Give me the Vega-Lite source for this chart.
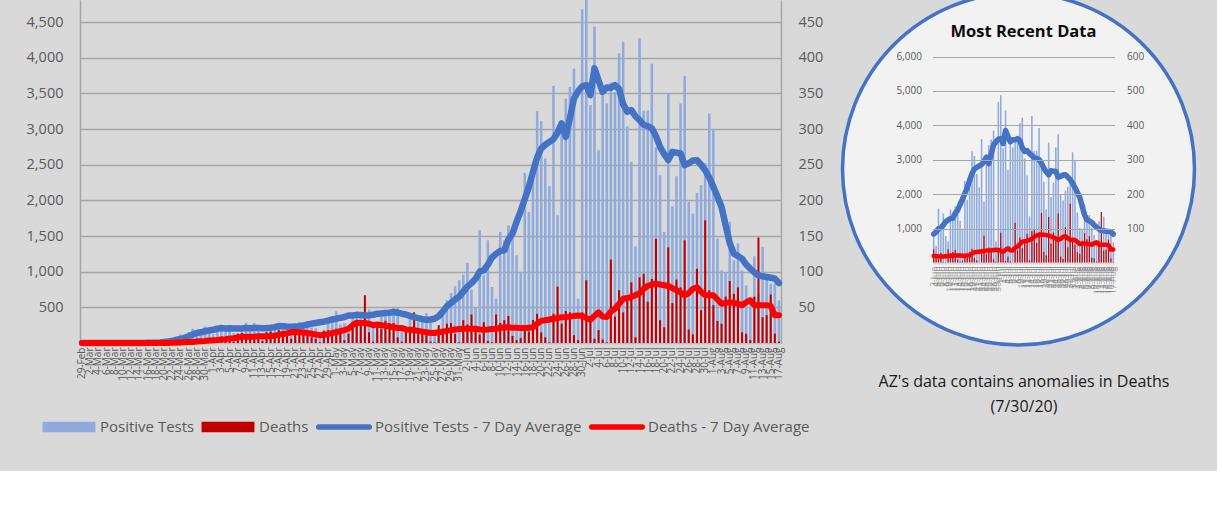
{
"$schema": "https://vega.github.io/schema/vega-lite/v6.json",
"background": "#d9d9d9",
"padding": {"left": 26, "top": -14, "right": 15, "bottom": 36},
"spacing": 12.5,
"config": {
  "view": {"stroke": null},
  "axis": {"labelFont": "Open Sans", "titleFont": "Open Sans"},
  "legend": {"labelFont": "Open Sans"},
  "title": {"font": "Open Sans"}
},
"datasets": {"az": [
{"date":"2020-02-29","p":0,"d":0,"pa":0,"da":0},
{"date":"2020-03-01","p":0,"d":0,"pa":0,"da":0},
{"date":"2020-03-02","p":0,"d":0,"pa":0,"da":0},
{"date":"2020-03-03","p":0,"d":0,"pa":0,"da":0},
{"date":"2020-03-04","p":0,"d":0,"pa":0,"da":0},
{"date":"2020-03-05","p":1,"d":0,"pa":0,"da":0},
{"date":"2020-03-06","p":1,"d":0,"pa":0,"da":0},
{"date":"2020-03-07","p":0,"d":0,"pa":0,"da":0},
{"date":"2020-03-08","p":1,"d":0,"pa":0,"da":0},
{"date":"2020-03-09","p":0,"d":0,"pa":0,"da":0},
{"date":"2020-03-10","p":1,"d":0,"pa":1,"da":0},
{"date":"2020-03-11","p":3,"d":0,"pa":1,"da":0},
{"date":"2020-03-12","p":0,"d":0,"pa":1,"da":0},
{"date":"2020-03-13","p":3,"d":0,"pa":1,"da":0},
{"date":"2020-03-14","p":1,"d":0,"pa":1,"da":0},
{"date":"2020-03-15","p":1,"d":0,"pa":1,"da":0},
{"date":"2020-03-16","p":5,"d":0,"pa":2,"da":0},
{"date":"2020-03-17","p":8,"d":0,"pa":3,"da":0},
{"date":"2020-03-18","p":14,"d":0,"pa":5,"da":0},
{"date":"2020-03-19","p":22,"d":0,"pa":8,"da":0},
{"date":"2020-03-20","p":38,"d":1,"pa":13,"da":0.1},
{"date":"2020-03-21","p":50,"d":0,"pa":20,"da":0.1},
{"date":"2020-03-22","p":75,"d":1,"pa":30,"da":0.3},
{"date":"2020-03-23","p":95,"d":0,"pa":42,"da":0.3},
{"date":"2020-03-24","p":120,"d":2,"pa":56,"da":0.6},
{"date":"2020-03-25","p":110,"d":2,"pa":73,"da":0.9},
{"date":"2020-03-26","p":150,"d":3,"pa":95,"da":1.3},
{"date":"2020-03-27","p":200,"d":2,"pa":120,"da":1.4},
{"date":"2020-03-28","p":180,"d":4,"pa":140,"da":2},
{"date":"2020-03-29","p":160,"d":3,"pa":150,"da":2.6},
{"date":"2020-03-30","p":235,"d":4,"pa":165,"da":2.9},
{"date":"2020-03-31","p":150,"d":6,"pa":175,"da":3.4},
{"date":"2020-04-01","p":124,"d":5,"pa":185,"da":4},
{"date":"2020-04-02","p":228,"d":4,"pa":200,"da":4.3},
{"date":"2020-04-03","p":173,"d":9,"pa":210,"da":5},
{"date":"2020-04-04","p":171,"d":6,"pa":205,"da":5.4},
{"date":"2020-04-05","p":248,"d":8,"pa":207,"da":6.3},
{"date":"2020-04-06","p":138,"d":2,"pa":205,"da":6.6},
{"date":"2020-04-07","p":136,"d":13,"pa":203,"da":7.7},
{"date":"2020-04-08","p":224,"d":14,"pa":205,"da":8.9},
{"date":"2020-04-09","p":282,"d":7,"pa":210,"da":8.6},
{"date":"2020-04-10","p":190,"d":9,"pa":208,"da":8.9},
{"date":"2020-04-11","p":280,"d":8,"pa":210,"da":8.6},
{"date":"2020-04-12","p":192,"d":10,"pa":212,"da":9.6},
{"date":"2020-04-13","p":103,"d":3,"pa":208,"da":9.4},
{"date":"2020-04-14","p":187,"d":15,"pa":210,"da":9.4},
{"date":"2020-04-15","p":186,"d":16,"pa":215,"da":9.7},
{"date":"2020-04-16","p":262,"d":11,"pa":222,"da":10.3},
{"date":"2020-04-17","p":269,"d":18,"pa":237,"da":11.6},
{"date":"2020-04-18","p":267,"d":15,"pa":235,"da":12.6},
{"date":"2020-04-19","p":212,"d":12,"pa":230,"da":13.4},
{"date":"2020-04-20","p":122,"d":6,"pa":228,"da":15},
{"date":"2020-04-21","p":206,"d":20,"pa":230,"da":15.3},
{"date":"2020-04-22","p":297,"d":18,"pa":233,"da":15},
{"date":"2020-04-23","p":231,"d":15,"pa":245,"da":14.6},
{"date":"2020-04-24","p":306,"d":12,"pa":260,"da":14},
{"date":"2020-04-25","p":216,"d":8,"pa":271,"da":13},
{"date":"2020-04-26","p":209,"d":6,"pa":280,"da":12},
{"date":"2020-04-27","p":140,"d":1,"pa":290,"da":11},
{"date":"2020-04-28","p":187,"d":17,"pa":300,"da":11.5},
{"date":"2020-04-29","p":278,"d":18,"pa":315,"da":12.5},
{"date":"2020-04-30","p":313,"d":16,"pa":330,"da":14},
{"date":"2020-05-01","p":444,"d":20,"pa":341,"da":15},
{"date":"2020-05-02","p":262,"d":18,"pa":352,"da":16.5},
{"date":"2020-05-03","p":281,"d":4,"pa":364,"da":18},
{"date":"2020-05-04","p":170,"d":13,"pa":387,"da":20},
{"date":"2020-05-05","p":410,"d":28,"pa":385,"da":25},
{"date":"2020-05-06","p":398,"d":30,"pa":395,"da":28.5},
{"date":"2020-05-07","p":397,"d":24,"pa":392,"da":28},
{"date":"2020-05-08","p":436,"d":67,"pa":387,"da":28},
{"date":"2020-05-09","p":470,"d":15,"pa":390,"da":27},
{"date":"2020-05-10","p":300,"d":2,"pa":395,"da":25},
{"date":"2020-05-11","p":250,"d":27,"pa":411,"da":26},
{"date":"2020-05-12","p":364,"d":20,"pa":415,"da":25},
{"date":"2020-05-13","p":373,"d":31,"pa":420,"da":24},
{"date":"2020-05-14","p":456,"d":28,"pa":425,"da":23},
{"date":"2020-05-15","p":490,"d":28,"pa":434,"da":22},
{"date":"2020-05-16","p":495,"d":8,"pa":425,"da":21},
{"date":"2020-05-17","p":247,"d":2,"pa":411,"da":21},
{"date":"2020-05-18","p":215,"d":18,"pa":400,"da":19},
{"date":"2020-05-19","p":372,"d":15,"pa":380,"da":18.5},
{"date":"2020-05-20","p":343,"d":43,"pa":364,"da":18},
{"date":"2020-05-21","p":300,"d":20,"pa":350,"da":17},
{"date":"2020-05-22","p":330,"d":15,"pa":335,"da":16},
{"date":"2020-05-23","p":420,"d":11,"pa":327,"da":15},
{"date":"2020-05-24","p":325,"d":2,"pa":330,"da":14},
{"date":"2020-05-25","p":180,"d":1,"pa":341,"da":14},
{"date":"2020-05-26","p":200,"d":25,"pa":375,"da":15},
{"date":"2020-05-27","p":474,"d":20,"pa":440,"da":16},
{"date":"2020-05-28","p":600,"d":27,"pa":514,"da":17},
{"date":"2020-05-29","p":700,"d":28,"pa":560,"da":18},
{"date":"2020-05-30","p":795,"d":13,"pa":610,"da":19},
{"date":"2020-05-31","p":880,"d":1,"pa":650,"da":19.5},
{"date":"2020-06-01","p":960,"d":32,"pa":720,"da":20},
{"date":"2020-06-02","p":1122,"d":26,"pa":790,"da":20},
{"date":"2020-06-03","p":748,"d":40,"pa":840,"da":20},
{"date":"2020-06-04","p":504,"d":20,"pa":900,"da":20},
{"date":"2020-06-05","p":1581,"d":12,"pa":1000,"da":19},
{"date":"2020-06-06","p":949,"d":29,"pa":1020,"da":18.7},
{"date":"2020-06-07","p":1440,"d":3,"pa":1100,"da":19},
{"date":"2020-06-08","p":785,"d":1,"pa":1200,"da":19.5},
{"date":"2020-06-09","p":622,"d":40,"pa":1250,"da":20},
{"date":"2020-06-10","p":1557,"d":28,"pa":1290,"da":21},
{"date":"2020-06-11","p":1440,"d":32,"pa":1300,"da":22},
{"date":"2020-06-12","p":1651,"d":38,"pa":1450,"da":22},
{"date":"2020-06-13","p":1464,"d":10,"pa":1534,"da":21.5},
{"date":"2020-06-14","p":1230,"d":4,"pa":1700,"da":21.5},
{"date":"2020-06-15","p":996,"d":7,"pa":1850,"da":21},
{"date":"2020-06-16","p":2386,"d":18,"pa":2020,"da":21},
{"date":"2020-06-17","p":1838,"d":16,"pa":2189,"da":21.5},
{"date":"2020-06-18","p":2519,"d":32,"pa":2400,"da":22},
{"date":"2020-06-19","p":3252,"d":41,"pa":2600,"da":27},
{"date":"2020-06-20","p":3111,"d":15,"pa":2728,"da":31},
{"date":"2020-06-21","p":2587,"d":8,"pa":2780,"da":32},
{"date":"2020-06-22","p":2199,"d":1,"pa":2820,"da":33},
{"date":"2020-06-23","p":3603,"d":41,"pa":2860,"da":34},
{"date":"2020-06-24","p":1791,"d":79,"pa":2950,"da":35},
{"date":"2020-06-25","p":3056,"d":27,"pa":3079,"da":36},
{"date":"2020-06-26","p":3428,"d":45,"pa":2891,"da":36.4},
{"date":"2020-06-27","p":3591,"d":43,"pa":3150,"da":37},
{"date":"2020-06-28","p":3851,"d":11,"pa":3430,"da":38},
{"date":"2020-06-29","p":622,"d":4,"pa":3530,"da":38.7},
{"date":"2020-06-30","p":4680,"d":43,"pa":3600,"da":38},
{"date":"2020-07-01","p":4878,"d":88,"pa":3617,"da":35},
{"date":"2020-07-02","p":3336,"d":36,"pa":3476,"da":32.7},
{"date":"2020-07-03","p":4435,"d":6,"pa":3851,"da":38},
{"date":"2020-07-04","p":2704,"d":18,"pa":3680,"da":43},
{"date":"2020-07-05","p":3536,"d":5,"pa":3523,"da":37},
{"date":"2020-07-06","p":3360,"d":1,"pa":3584,"da":36.4},
{"date":"2020-07-07","p":3653,"d":117,"pa":3580,"da":44},
{"date":"2020-07-08","p":3520,"d":37,"pa":3617,"da":48},
{"date":"2020-07-09","p":4062,"d":74,"pa":3560,"da":55},
{"date":"2020-07-10","p":4225,"d":43,"pa":3350,"da":62},
{"date":"2020-07-11","p":3038,"d":65,"pa":3242,"da":63},
{"date":"2020-07-12","p":2540,"d":85,"pa":3266,"da":64.5},
{"date":"2020-07-13","p":1356,"d":8,"pa":3180,"da":67},
{"date":"2020-07-14","p":4273,"d":92,"pa":3125,"da":70},
{"date":"2020-07-15","p":3257,"d":97,"pa":3060,"da":76},
{"date":"2020-07-16","p":3259,"d":58,"pa":3040,"da":80},
{"date":"2020-07-17","p":3921,"d":90,"pa":3010,"da":82},
{"date":"2020-07-18","p":2742,"d":146,"pa":2900,"da":83},
{"date":"2020-07-19","p":2353,"d":32,"pa":2751,"da":82},
{"date":"2020-07-20","p":1557,"d":22,"pa":2650,"da":81},
{"date":"2020-07-21","p":3500,"d":134,"pa":2564,"da":80},
{"date":"2020-07-22","p":1918,"d":56,"pa":2680,"da":77},
{"date":"2020-07-23","p":2339,"d":89,"pa":2670,"da":74},
{"date":"2020-07-24","p":3360,"d":78,"pa":2658,"da":71},
{"date":"2020-07-25","p":3743,"d":144,"pa":2494,"da":67},
{"date":"2020-07-26","p":1978,"d":19,"pa":2520,"da":70},
{"date":"2020-07-27","p":1815,"d":12,"pa":2560,"da":76},
{"date":"2020-07-28","p":2105,"d":104,"pa":2564,"da":78},
{"date":"2020-07-29","p":2213,"d":46,"pa":2500,"da":72},
{"date":"2020-07-30","p":2525,"d":172,"pa":2423,"da":67},
{"date":"2020-07-31","p":3219,"d":74,"pa":2320,"da":67},
{"date":"2020-08-01","p":2985,"d":53,"pa":2189,"da":67},
{"date":"2020-08-02","p":1464,"d":31,"pa":2050,"da":61},
{"date":"2020-08-03","p":1019,"d":27,"pa":1908,"da":55},
{"date":"2020-08-04","p":996,"d":65,"pa":1650,"da":56},
{"date":"2020-08-05","p":1698,"d":87,"pa":1400,"da":57},
{"date":"2020-08-06","p":1160,"d":69,"pa":1254,"da":56},
{"date":"2020-08-07","p":1394,"d":78,"pa":1220,"da":55},
{"date":"2020-08-08","p":1019,"d":15,"pa":1183,"da":53},
{"date":"2020-08-09","p":809,"d":13,"pa":1100,"da":57},
{"date":"2020-08-10","p":598,"d":4,"pa":1043,"da":60},
{"date":"2020-08-11","p":1216,"d":65,"pa":990,"da":53},
{"date":"2020-08-12","p":692,"d":148,"pa":949,"da":53},
{"date":"2020-08-13","p":1347,"d":36,"pa":935,"da":53},
{"date":"2020-08-14","p":925,"d":39,"pa":925,"da":53},
{"date":"2020-08-15","p":832,"d":68,"pa":915,"da":52},
{"date":"2020-08-16","p":832,"d":13,"pa":903,"da":39},
{"date":"2020-08-17","p":598,"d":2,"pa":841,"da":39}
]},
"hconcat": [
{
  "width": 701,
  "height": 343,
  "data": {"name": "az"},
  "encoding": {
    "x": {"field": "date", "type": "ordinal", "timeUnit": "utcyearmonthdate",
      "scale": {"paddingInner": 0, "paddingOuter": 0},
      "axis": {"title": null, "labelAngle": -90, "labelFontSize": 10, "labelColor": "#595959",
        "labelExpr": "round((datum.value - utc(2020,1,29)) / 86400000) % 2 === 0 ? utcFormat(datum.value, '%-d-%b') : ''",
        "labelOverlap": false, "labelBound": false, "labelFlush": false, "labelPadding": 4,
        "ticks": false, "domain": true, "domainColor": "#bfbfbf", "domainWidth": 1.5}}
  },
  "layer": [
    {"mark": {"type": "bar", "width": {"band": 0.62}, "clip": true},
     "encoding": {
       "y": {"field": "p", "type": "quantitative", "scale": {"domain": [0, 4810], "clamp": true},
         "axis": {"orient": "left", "title": null, "values": [500,1000,1500,2000,2500,3000,3500,4000,4500], "format": ",.0f",
           "grid": true, "gridColor": "#a6a6a6", "gridWidth": 1.3, "domain": true, "domainColor": "#a6a6a6", "domainWidth": 1.5,
           "ticks": false, "labelPadding": 17, "labelFontSize": 14.5, "labelColor": "#595959"}},
       "color": {"datum": "Positive Tests",
         "scale": {"domain": ["Positive Tests", "Deaths", "Positive Tests - 7 Day Average", "Deaths - 7 Day Average"],
                   "range": ["#8faadc", "#c00000", "#4472c4", "#ff0000"]},
         "legend": {"orient": "none", "direction": "horizontal", "legendX": -38, "legendY": 400, "title": null,
           "symbolType": "M-0.98,-0.19H0.98V0.19H-0.98Z", "symbolSize": 2916, "symbolStrokeWidth": 0,
           "labelFontSize": 15, "labelColor": "#595959", "labelOffset": 4, "columnPadding": 6, "labelLimit": 400,
           "encode": {"symbols": {"update": {
             "shape": {"signal": "datum.value === 'Positive Tests' || datum.value === 'Deaths' ? 'M-0.98,-0.19H0.98V0.19H-0.98Z' : 'M-0.94,-0.1H0.94A0.1,0.1 0 0 1 0.94,0.1H-0.94A0.1,0.1 0 0 1 -0.94,-0.1Z'"},
             "fill": {"signal": "datum.value === 'Positive Tests' ? '#8faadc' : datum.value === 'Deaths' ? '#c00000' : datum.value === 'Positive Tests - 7 Day Average' ? '#4472c4' : '#ff0000'"},
             "strokeWidth": {"value": 0},
             "opacity": {"value": 1}}}}}}
     }},
    {"mark": {"type": "bar", "width": {"band": 0.5}},
     "encoding": {
       "y": {"field": "d", "type": "quantitative", "scale": {"domain": [0, 481]},
         "axis": {"orient": "right", "title": null, "values": [50,100,150,200,250,300,350,400,450],
           "grid": false, "domain": true, "domainColor": "#a6a6a6", "domainWidth": 1.5,
           "ticks": false, "labelPadding": 17, "labelFontSize": 14.5, "labelColor": "#595959"}},
       "color": {"datum": "Deaths"}
     }},
    {"mark": {"type": "line", "strokeWidth": 6.5, "strokeCap": "round", "strokeJoin": "round"},
     "encoding": {
       "y": {"field": "pa", "type": "quantitative", "scale": {"domain": [0, 4810]}, "axis": null},
       "color": {"datum": "Positive Tests - 7 Day Average"}
     }},
    {"mark": {"type": "line", "strokeWidth": 6, "strokeCap": "round", "strokeJoin": "round"},
     "encoding": {
       "y": {"field": "da", "type": "quantitative", "scale": {"domain": [0, 481]}, "axis": null},
       "color": {"datum": "Deaths - 7 Day Average"}
     }}
  ],
  "resolve": {"scale": {"y": "independent"}}
},
{
  "width": 182,
  "height": 338,
  "title": {"text": "Most Recent Data", "fontSize": 16.5, "fontWeight": "bold", "color": "#0d0d0d", "anchor": "middle", "offset": -54},
  "data": {"name": "az"},
  "transform": [{"filter": {"field": "date", "timeUnit": "utcyearmonthdate", "gte": {"year": 2020, "month": 6, "date": 3, "utc": true}}}],
  "layer": [
    {"data": {"values": [{}]},
     "mark": {"type": "arc", "radius": 176, "theta": 0, "theta2": 6.2832, "xOffset": -5, "fill": "#f2f2f2", "stroke": "#4472c4", "strokeWidth": 3.5},
     "encoding": {}},
    {"mark": {"type": "bar", "color": "#8faadc", "width": {"band": 0.65}},
     "encoding": {
       "x": {"field": "date", "type": "ordinal", "timeUnit": "utcyearmonthdate",
         "scale": {"paddingInner": 0, "paddingOuter": 0},
         "axis": {"orient": "bottom", "offset": -75, "labelAngle": -90, "labelFontSize": 8.5, "labelColor": "#7f7f7f", "labelOpacity": 0.7,
           "labelExpr": "utcFormat(datum.value, '%-d-%b')",
           "labelOverlap": false, "labelBound": false, "labelFlush": false, "labelPadding": 3,
           "ticks": false, "domain": true, "domainColor": "#d9d9d9", "domainWidth": 2, "zindex": 1,
           "title": ["AZ's data contains anomalies in Deaths", "(7/30/20)"], "titleFontSize": 16, "titleFontWeight": "normal",
           "titleColor": "#1a1a1a", "titleLineHeight": 25, "titlePadding": 80}},
       "y": {"field": "p", "type": "quantitative", "scale": {"domain": [-2180, 7645]},
         "axis": {"orient": "left", "title": null, "values": [1000,2000,3000,4000,5000,6000], "format": ",.0f",
           "grid": true, "gridColor": "#a6a6a6", "gridWidth": 1, "domain": false, "ticks": false, "zindex": 1,
           "labelPadding": 11, "labelFontSize": 10, "labelColor": "#595959"}}
     }},
    {"mark": {"type": "bar", "color": "#c00000", "width": {"band": 0.5}},
     "encoding": {
       "x": {"field": "date", "type": "ordinal", "timeUnit": "utcyearmonthdate"},
       "y": {"field": "d", "type": "quantitative", "scale": {"domain": [-218, 764.5]},
         "axis": {"orient": "right", "title": null, "values": [100,200,300,400,500,600],
           "grid": false, "domain": false, "ticks": false, "zindex": 1,
           "labelPadding": 12, "labelFontSize": 10, "labelColor": "#595959"}}
     }},
    {"mark": {"type": "line", "color": "#4472c4", "strokeWidth": 5.5, "strokeCap": "round", "strokeJoin": "round"},
     "encoding": {
       "x": {"field": "date", "type": "ordinal", "timeUnit": "utcyearmonthdate"},
       "y": {"field": "pa", "type": "quantitative", "scale": {"domain": [-2180, 7645]}, "axis": null}
     }},
    {"mark": {"type": "line", "color": "#ff0000", "strokeWidth": 4.5, "strokeCap": "round", "strokeJoin": "round"},
     "encoding": {
       "x": {"field": "date", "type": "ordinal", "timeUnit": "utcyearmonthdate"},
       "y": {"field": "da", "type": "quantitative", "scale": {"domain": [-218, 764.5]}, "axis": null}
     }}
  ],
  "resolve": {"scale": {"y": "independent"}}
}
]
}
